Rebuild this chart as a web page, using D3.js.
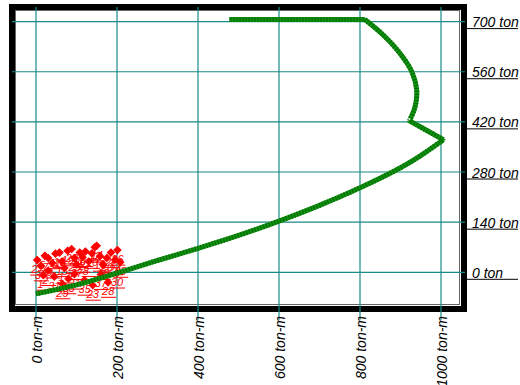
<!DOCTYPE html>
<html><head><meta charset="utf-8">
<script src="https://cdn.jsdelivr.net/npm/d3@7"></script>
<style>body{margin:0;background:#fff}svg{display:block}</style>
</head><body><svg id="c" width="520" height="385"></svg>
<script>
const xTicks=[0,200,400,600,800,1000];
const yTicks=[0,140,280,420,560,700];
const xTickLabels=["0 ton-m","200 ton-m","400 ton-m","600 ton-m","800 ton-m","1000 ton-m"];
const yTickLabels=["0 ton","140 ton","280 ton","420 ton","560 ton","700 ton"];
// interaction curve (moment ton-m, axial ton), split at its sharp corners
const curveM=[0,100,200,300,400,500,600,700,800,900,950,1006,922,936,940,928,899,858,812,477];
const curveP=[-60,-35,-2,33,67,103,143,187,236,292,326,370,423,462,509,560,611,662,706,706];
const cornerIdx=[11,12,18];
// load points
const ptM=[3,12,22,30,40,48,58,64,70,78,88,95,100,108,115,122,130,138,145,150,158,165,175,185,195,201,208,18,45,80,120,160,200,65,140,178,95,30];
const ptP=[34,18,46,40,26,52,55,30,12,60,65,40,22,55,42,58,30,53,70,74,45,22,40,55,35,62,28,-8,-12,-18,-22,-6,-2,-32,-36,-28,-5,5];
const ptLab=["2","3","5","7","9","11","13","15","17","19","23","25","27","29","4","6","8","10","12","14","16","18","20","22","24","26","28","1","31","33","35","37","30","29","23","28","21","2"];

const svg=d3.select("#c");
const x=d3.scaleLinear().domain([0,1000]).range([36,441]);
const y=d3.scaleLinear().domain([0,700]).range([272.3,21.6]);

// frame
svg.append("rect").attr("x",12).attr("y",7).attr("width",452).attr("height",302)
  .attr("fill","#fff").attr("stroke","#000").attr("stroke-width",6);
svg.append("rect").attr("x",15.5).attr("y",10.5).attr("width",444).attr("height",294)
  .attr("fill","none").attr("stroke","#666").attr("stroke-width",1);

// grid
svg.append("g").selectAll("line").data(xTicks).join("line")
  .attr("x1",d=>x(d)).attr("x2",d=>x(d)).attr("y1",7).attr("y2",320)
  .attr("stroke","#1a8a8a").attr("stroke-width",1.2);
svg.append("g").selectAll("line").data(yTicks).join("line")
  .attr("x1",12).attr("x2",465).attr("y1",d=>y(d)).attr("y2",d=>y(d))
  .attr("stroke","#1a8a8a").attr("stroke-width",1.2);

// right labels
const yl=svg.append("g");
yTicks.forEach((d,i)=>{
  yl.append("line").attr("x1",467).attr("x2",518).attr("y1",y(d)+7).attr("y2",y(d)+7)
    .attr("stroke","#000").attr("stroke-width",1);
  yl.append("text").attr("x",472).attr("y",y(d)+5.5)
    .attr("font-family","Liberation Sans, Arial, sans-serif").attr("font-style","italic")
    .attr("font-size",14).attr("fill","#000").text(yTickLabels[i]);
});
// bottom labels
const xl=svg.append("g");
xTicks.forEach((d,i)=>{
  xl.append("text").attr("transform",`translate(${x(d)+5.5},316) rotate(-90)`)
    .attr("text-anchor","end")
    .attr("font-family","Liberation Sans, Arial, sans-serif").attr("font-style","italic")
    .attr("font-size",14).attr("fill","#000").text(xTickLabels[i]);
});

// points
const pg=svg.append("g");
ptM.forEach((m,i)=>{
  const px=x(m), py=y(ptP[i]);
  pg.append("text").attr("x",px-6).attr("y",py+13)
    .attr("font-family","Liberation Sans, Arial, sans-serif").attr("font-style","italic")
    .attr("font-size",11).attr("fill","#f00").text(ptLab[i]);
  pg.append("line").attr("x1",px-7).attr("x2",px+8).attr("y1",py+15).attr("y2",py+15)
    .attr("stroke","#f00").attr("stroke-width",1);
  pg.append("path").attr("d",d3.symbol(d3.symbolSquare,26)())
    .attr("transform",`translate(${px},${py}) rotate(45)`)
    .attr("fill","#f00").attr("stroke","#f00").attr("stroke-width",1);
});

// curve: smooth pieces joined at sharp corners
const pts=curveM.map((m,i)=>[x(m),y(curveP[i])]);
const bounds=[0,...cornerIdx,pts.length-1];
const smooth=d3.line().curve(d3.curveCatmullRom.alpha(0.5));
let dStr="";
for(let k=0;k<bounds.length-1;k++){
  const seg=pts.slice(bounds[k],bounds[k+1]+1);
  const s=smooth(seg);
  dStr+= k===0 ? s : s.replace(/^M[^CLZ]*/,"L"+seg[0][0]+","+seg[0][1]);
}
svg.append("path").attr("d",dStr).attr("fill","none")
  .attr("stroke","#119011").attr("stroke-width",5).attr("stroke-linejoin","bevel");
svg.append("path").attr("d",dStr).attr("fill","none")
  .attr("stroke","#006a00").attr("stroke-width",5).attr("stroke-linejoin","bevel").attr("stroke-dasharray","1 2");
</script></body></html>
